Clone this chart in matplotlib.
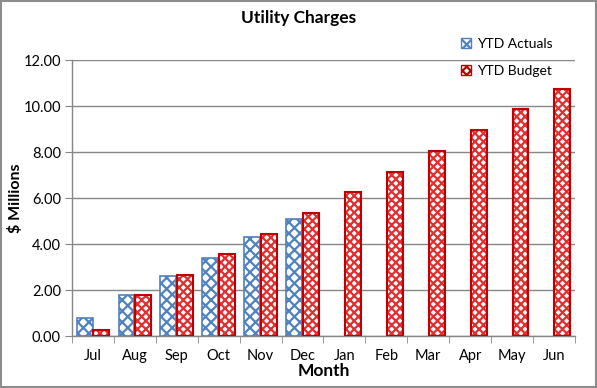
import matplotlib.pyplot as plt
import matplotlib.patches as mpatches
import numpy as np

# dados (milhoes de dolares)
meses = ['Jul', 'Aug', 'Sep', 'Oct', 'Nov', 'Dec', 'Jan', 'Feb', 'Mar', 'Apr', 'May', 'Jun']
ytd_actuals = [0.80, 1.80, 2.60, 3.40, 4.30, 5.10]
ytd_budget = [0.25, 1.78, 2.67, 3.58, 4.43, 5.33, 6.25, 7.15, 8.05, 8.97, 9.87, 10.75]
y_ticks = [0, 2, 4, 6, 8, 10, 12]

plt.rcParams['font.family'] = ['Lato', 'DejaVu Sans']
plt.rcParams['hatch.linewidth'] = 1.6

AZUL = '#4F81BD'
VERMELHO = '#C00000'
CINZA = '#868686'

fig = plt.figure(figsize=(5.97, 3.88), dpi=100)
ax = fig.add_axes([0.1206, 0.134, 0.8425, 0.711])

x = np.arange(len(meses))
w = 0.38
off = 0.2

ax.bar(x[:len(ytd_actuals)] - off, ytd_actuals, w, facecolor='white',
       edgecolor=AZUL, hatch='xxx', linewidth=0, zorder=3)
ax.bar(x[:len(ytd_actuals)] - off, ytd_actuals, w, facecolor='none',
       edgecolor=AZUL, linewidth=1.2, zorder=4)
ax.bar(x + off, ytd_budget, w, facecolor='white',
       edgecolor='#E03030', hatch='xxxx', linewidth=0, zorder=3)
ax.bar(x + off, ytd_budget, w, facecolor='none',
       edgecolor=VERMELHO, linewidth=1.5, zorder=4)

ax.set_xlim(-0.5, len(meses) - 0.5)
ax.set_ylim(0, 12)
ax.set_yticks(y_ticks)
ax.set_yticklabels([f'{v:.2f}' for v in y_ticks], fontsize=10.5)
ax.set_xticks(x)
ax.set_xticklabels(meses, fontsize=10.5)
ax.set_xticks(np.arange(len(meses) + 1) - 0.5, minor=True)
ax.tick_params(axis='x', which='major', length=0, pad=9)
ax.tick_params(axis='x', which='minor', length=5, color=CINZA, direction='out')
ax.tick_params(axis='y', length=5, color=CINZA, direction='out', pad=3)

ax.yaxis.grid(True, color=CINZA, linewidth=1, zorder=0)
ax.set_axisbelow(True)
for s in ['top', 'right']:
    ax.spines[s].set_visible(False)
for s in ['left', 'bottom']:
    ax.spines[s].set_color(CINZA)
    ax.spines[s].set_linewidth(1)

ax.set_ylabel('$ Millions', fontsize=11.5, fontweight='bold', labelpad=0)
ax.set_xlabel('Month', fontsize=12.5, fontweight='bold', labelpad=0)
fig.text(0.5, 0.953, 'Utility Charges', ha='center', va='center',
         fontsize=12.5, fontweight='bold')

h1 = mpatches.Patch(facecolor='white', edgecolor=AZUL, hatch='xxx')
h2 = mpatches.Patch(facecolor='white', edgecolor=VERMELHO, hatch='xxxx')
fig.legend([h1, h2], ['YTD Actuals', 'YTD Budget'], loc='upper left',
           bbox_to_anchor=(0.752, 0.935), frameon=False, fontsize=10,
           handlelength=0.7, handleheight=0.7, handletextpad=0.4,
           labelspacing=1.1)

# moldura cinza em volta da imagem
fig.patches.append(mpatches.Rectangle((0.002, 0.003), 0.996, 0.994,
                                      transform=fig.transFigure, fill=False,
                                      edgecolor='#8C8C8C', linewidth=1.5))

fig.savefig('out.png', dpi=100)
